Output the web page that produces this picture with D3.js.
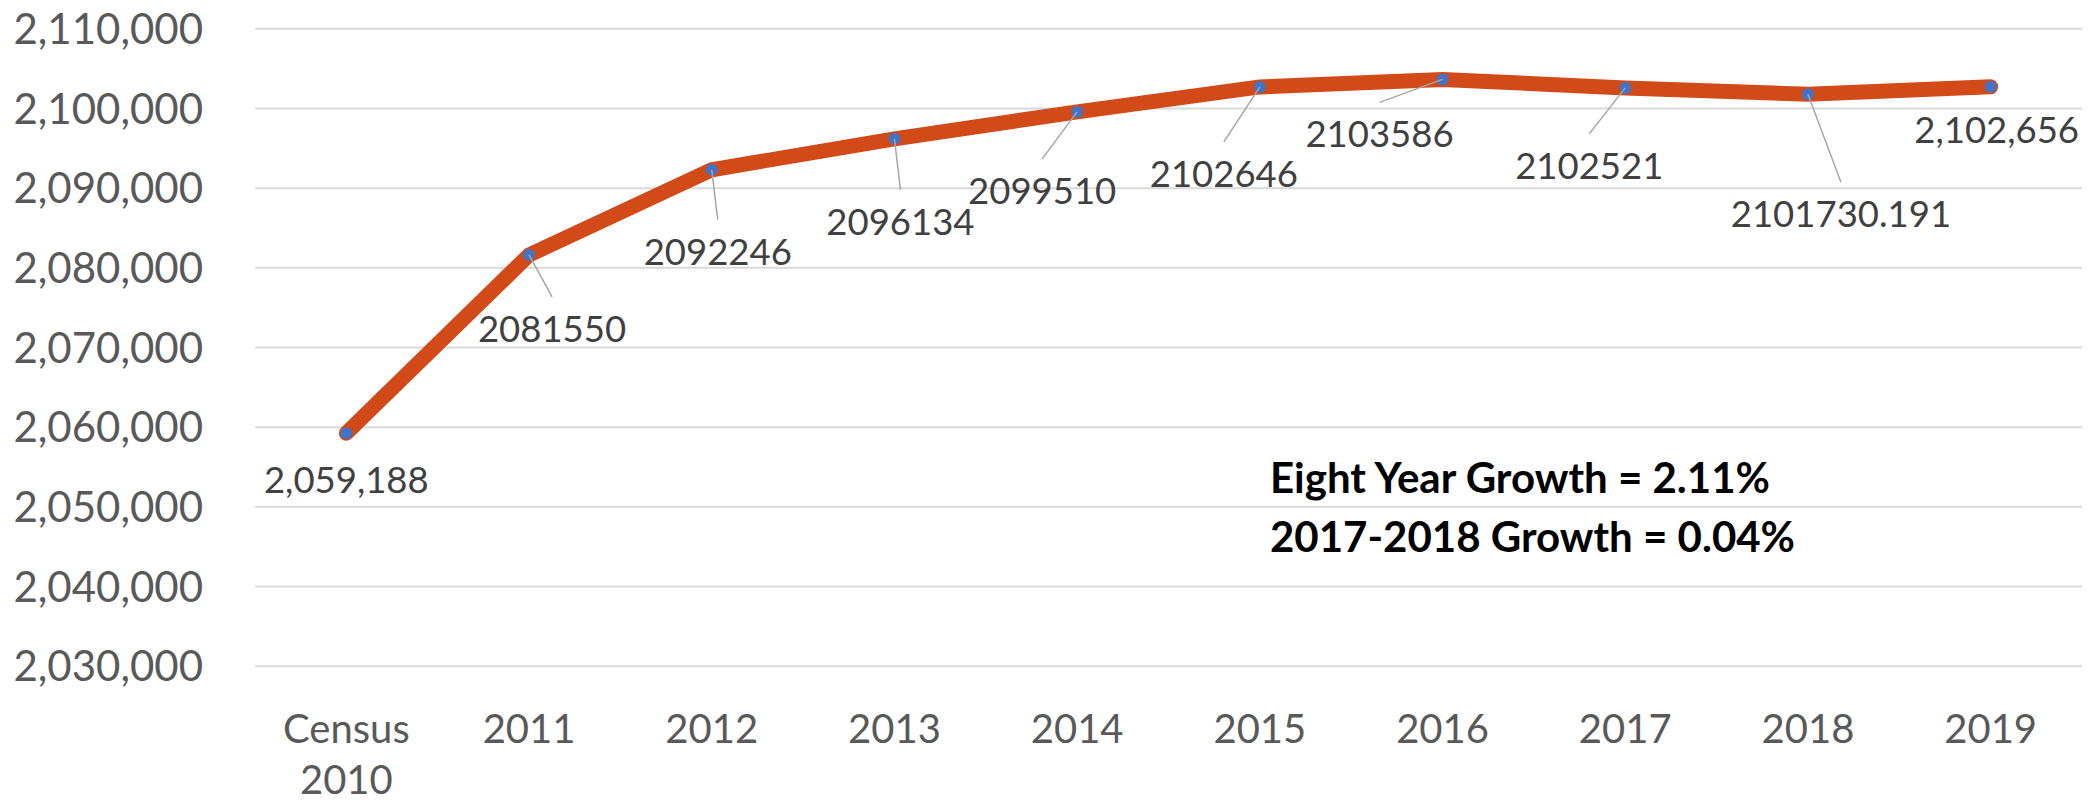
<!DOCTYPE html>
<html>
<head>
<meta charset="utf-8">
<script src="https://cdnjs.cloudflare.com/ajax/libs/d3/7.8.5/d3.min.js"></script>
<style>
  body { margin: 0; background: #fff; }
  text { font-family: Lato, "Open Sans", sans-serif; }
</style>
</head>
<body>
<script>
// chart data
var categories = ["Census 2010", "2011", "2012", "2013", "2014", "2015", "2016", "2017", "2018", "2019"];
var population = [2059188, 2081550, 2092246, 2096134, 2099510, 2102646, 2103586, 2102521, 2101730.191, 2102656];
var yTicks = [2030000, 2040000, 2050000, 2060000, 2070000, 2080000, 2090000, 2100000, 2110000];
var notes = ["Eight Year Growth = 2.11%", "2017-2018 Growth = 0.04%"];

// label placement relative to each point (px), leader drawn when true
var labelDx = [0, 23, 6, 6, -35, -36, -63, -36, 33, 6];
var labelDy = [60, 87, 95, 96, 92, 100, 68, 91, 133, 56];
var leader  = [false, true, true, true, true, true, true, true, true, false];

var width = 2094,
    height = 805;
var plotLeft = 255, plotRight = 2082, plotTop = 28.3, plotBottom = 665.7;

var svg = d3.select('body').append('svg')
    .attr('width', width)
    .attr('height', height);

var x = d3.scaleBand().domain(categories).range([plotLeft, plotRight]).padding(0);
var y = d3.scaleLinear().domain([2030000, 2110000]).range([plotBottom, plotTop]);

function cx(i) { return x(categories[i]) + x.bandwidth() / 2; }

// gridlines + y labels
var yAxis = svg.append('g')
    .attr('transform', 'translate(' + plotLeft + ',0)')
    .call(d3.axisLeft(y).tickValues(yTicks).tickFormat(d3.format(',')).tickSize(-(plotRight - plotLeft)).tickPadding(52));
yAxis.select('.domain').remove();
yAxis.selectAll('line').attr('stroke', '#d9d9d9').attr('stroke-width', 2);
yAxis.selectAll('text')
    .attr('fill', '#595959')
    .attr('font-size', 42)
    .attr('dy', '0.36em');

// category labels
var xAxis = svg.append('g')
    .attr('transform', 'translate(0,' + plotBottom + ')')
    .call(d3.axisBottom(x).tickSize(0).tickPadding(0));
xAxis.select('.domain').remove();
xAxis.selectAll('text').each(function(d) {
  var t = d3.select(this).text(null)
      .attr('fill', '#595959')
      .attr('font-size', 40)
      .attr('y', 77)
      .attr('dy', 0);
  d.split(' ').forEach(function(w, k) {
    t.append('tspan').attr('x', 0).attr('dy', k ? 51 : 0).text(w);
  });
});

// series line
var line = d3.line()
    .x(function(d, i) { return cx(i); })
    .y(function(d) { return y(d); });

svg.append('path')
    .datum(population)
    .attr('d', line)
    .attr('fill', 'none')
    .attr('stroke', '#d24a18')
    .attr('stroke-width', 15)
    .attr('stroke-linecap', 'round')
    .attr('stroke-linejoin', 'miter');

svg.selectAll('circle.pt')
    .data(population)
  .enter().append('circle')
    .attr('class', 'pt')
    .attr('cx', function(d, i) { return cx(i); })
    .attr('cy', function(d) { return y(d); })
    .attr('r', 6)
    .attr('fill', '#4472c4');

// leader lines
var withLeader = d3.range(population.length).filter(function(i) { return leader[i]; });
svg.selectAll('line.leader')
    .data(withLeader)
  .enter().append('line')
    .attr('class', 'leader')
    .attr('x1', function(i) { return cx(i); })
    .attr('y1', function(i) { return y(population[i]); })
    .attr('x2', function(i) { return cx(i) + labelDx[i]; })
    .attr('y2', function(i) { return y(population[i]) + labelDy[i] - 45; })
    .attr('stroke', '#a6a6a6')
    .attr('stroke-width', 1.5);

// data labels
var fmt = d3.format(',');
svg.selectAll('text.lbl')
    .data(population)
  .enter().append('text')
    .attr('class', 'lbl')
    .attr('x', function(d, i) { return cx(i) + labelDx[i]; })
    .attr('y', function(d, i) { return y(d) + labelDy[i]; })
    .attr('text-anchor', 'middle')
    .attr('fill', '#404040')
    .attr('font-size', 36.5)
    .text(function(d, i) { return (i == 0 || i == population.length - 1) ? fmt(d) : String(d); });

// growth notes
svg.selectAll('text.note')
    .data(notes)
  .enter().append('text')
    .attr('class', 'note')
    .attr('x', 1270)
    .attr('y', function(d, i) { return 493 + i * 59; })
    .attr('font-size', 42)
    .attr('font-weight', 'bold')
    .attr('fill', '#000')
    .text(function(d) { return d; });
</script>
</body>
</html>
